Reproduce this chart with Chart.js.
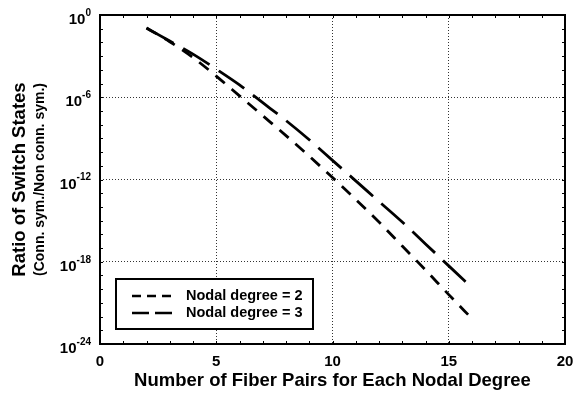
<!DOCTYPE html>
<html>
<head>
<meta charset="utf-8">
<script src="https://cdn.jsdelivr.net/npm/chart.js@4/dist/chart.umd.min.js"></script>
<style>
  html, body { margin: 0; padding: 0; background: #fff; }
  canvas { display: block; }
</style>
</head>
<body>
<canvas id="chart" width="575" height="399"></canvas>
<script>
// data
const fiberPairs = [2, 3, 4, 5, 6, 7, 8, 9, 10, 11, 12, 13, 14, 15, 16];
const degree2Ratio = [1.12e-1, 1.12e-2, 7.9e-4, 3.5e-5, 1.26e-6, 4.5e-8, 1.6e-9, 5.0e-11,
  1.4e-12, 3.5e-14, 7.9e-16, 1.4e-17, 2.5e-19, 4.0e-21, 7.1e-23];
const degree3Ratio = [1.12e-1, 1.26e-2, 1.4e-3, 1.12e-4, 7.9e-6, 4.0e-7, 2.0e-8, 7.9e-10,
  2.5e-11, 7.9e-13, 2.5e-14, 7.9e-16, 2.0e-17, 5.0e-19, 1.26e-20];
const seriesLabels = ['Nodal degree = 2', 'Nodal degree = 3'];
const xTicks = [0, 5, 10, 15, 20];
const yTickExponents = [0, -6, -12, -18, -24];

const FONT = '"Liberation Sans", Arial, Helvetica, sans-serif';
const DASH_SHORT = [12, 9];
const DASH_LONG = [31, 11];

// draws the frame, minor ticks, y labels with exponents, y titles and the legend box
const decorPlugin = {
  id: 'decor',
  afterDatasetsDraw(chart) {
    const { ctx, chartArea: a, scales } = chart;
    const xs = scales.x;
    const ys = scales.y;
    ctx.save();

    // minor ticks, inside
    ctx.strokeStyle = '#000';
    ctx.lineWidth = 1;
    ctx.beginPath();
    for (let v = xs.min; v <= xs.max; v++) {
      const px = Math.round(xs.getPixelForValue(v)) + 0.5;
      ctx.moveTo(px, a.top); ctx.lineTo(px, a.top + 3);
      ctx.moveTo(px, a.bottom); ctx.lineTo(px, a.bottom - 3);
    }
    for (let e = -24; e <= 0; e++) {
      const py = Math.round(ys.getPixelForValue(Math.pow(10, e))) + 0.5;
      ctx.moveTo(a.left, py); ctx.lineTo(a.left + 3, py);
      ctx.moveTo(a.right, py); ctx.lineTo(a.right - 3, py);
    }
    ctx.stroke();

    // frame
    ctx.lineWidth = 2;
    ctx.strokeRect(a.left, a.top, a.right - a.left, a.bottom - a.top);

    // y tick labels 10^n
    ctx.fillStyle = '#000';
    ctx.textBaseline = 'middle';
    yTickExponents.forEach(e => {
      const py = ys.getPixelForValue(Math.pow(10, e));
      const right = a.left - 9;
      ctx.font = 'bold 10px ' + FONT;
      ctx.textAlign = 'right';
      const expText = String(e);
      const expW = ctx.measureText(expText).width;
      ctx.fillText(expText, right, py - 2);
      ctx.font = 'bold 15px ' + FONT;
      ctx.fillText('10', right - expW, py + 5);
    });

    // y axis titles
    const midY = (a.top + a.bottom) / 2;
    ctx.save();
    ctx.translate(20, midY);
    ctx.rotate(-Math.PI / 2);
    ctx.textAlign = 'center';
    ctx.font = 'bold 18.5px ' + FONT;
    ctx.fillText('Ratio of Switch States', 0, 0);
    ctx.font = 'bold 14px ' + FONT;
    ctx.fillText('(Conn. sym./Non conn. sym.)', 0, 20);
    ctx.restore();

    // legend box
    const box = { left: a.left + 16, top: a.bottom - 65, width: 197, height: 50 };
    ctx.fillStyle = '#fff';
    ctx.fillRect(box.left, box.top, box.width, box.height);
    ctx.lineWidth = 2;
    ctx.strokeStyle = '#000';
    ctx.strokeRect(box.left, box.top, box.width, box.height);
    const legendDash = [[9, 6], [17, 6]];
    chart.data.datasets.forEach((ds, i) => {
      const ly = box.top + 17 + i * 17;
      ctx.beginPath();
      ctx.lineWidth = 2.5;
      ctx.setLineDash(legendDash[i]);
      ctx.moveTo(box.left + 16, ly);
      ctx.lineTo(box.left + 56, ly);
      ctx.stroke();
      ctx.setLineDash([]);
      ctx.fillStyle = '#000';
      ctx.font = 'bold 14.5px ' + FONT;
      ctx.textAlign = 'left';
      ctx.fillText(ds.label, box.left + 70, ly);
    });
    ctx.restore();
  }
};

new Chart(document.getElementById('chart'), {
  type: 'line',
  data: {
    datasets: [
      {
        label: seriesLabels[0],
        data: fiberPairs.map((x, i) => ({ x, y: degree2Ratio[i] })),
        borderColor: '#000',
        borderWidth: 2.8,
        borderDash: DASH_SHORT,
        pointRadius: 0,
        cubicInterpolationMode: 'monotone',
        fill: false,
      },
      {
        label: seriesLabels[1],
        data: fiberPairs.map((x, i) => ({ x, y: degree3Ratio[i] })),
        borderColor: '#000',
        borderWidth: 2.8,
        borderDash: DASH_LONG,
        pointRadius: 0,
        cubicInterpolationMode: 'monotone',
        fill: false,
      },
    ],
  },
  options: {
    responsive: false,
    animation: false,
    devicePixelRatio: 1,
    layout: { padding: { top: 15, right: 10, left: 0, bottom: 0 } },
    plugins: {
      legend: { display: false },
      tooltip: { enabled: false },
    },
    scales: {
      x: {
        type: 'linear',
        min: 0,
        max: 20,
        afterBuildTicks: scale => { scale.ticks = xTicks.map(v => ({ value: v })); },
        afterFit: scale => {
          scale.height = 55;
          scale.paddingLeft = 0;
          scale.paddingRight = 0;
        },
        ticks: {
          color: '#000',
          font: { family: FONT, size: 15, weight: 'bold' },
          padding: 9,
          maxRotation: 0,
        },
        grid: { color: '#333', lineWidth: 1, drawTicks: false },
        border: { display: false, dash: [1, 2] },
        title: {
          display: true,
          text: 'Number of Fiber Pairs for Each Nodal Degree',
          color: '#000',
          font: { family: FONT, size: 18.5, weight: 'bold' },
          padding: { top: 0, bottom: 7 },
        },
      },
      y: {
        type: 'logarithmic',
        min: 1e-24,
        max: 1,
        afterBuildTicks: scale => {
          scale.ticks = yTickExponents.map(e => ({ value: Math.pow(10, e) }));
        },
        afterFit: scale => { scale.width = 100; },
        ticks: { display: false },
        grid: { color: '#333', lineWidth: 1, drawTicks: false },
        border: { display: false, dash: [1, 2] },
      },
    },
  },
  plugins: [decorPlugin],
});
</script>
</body>
</html>
